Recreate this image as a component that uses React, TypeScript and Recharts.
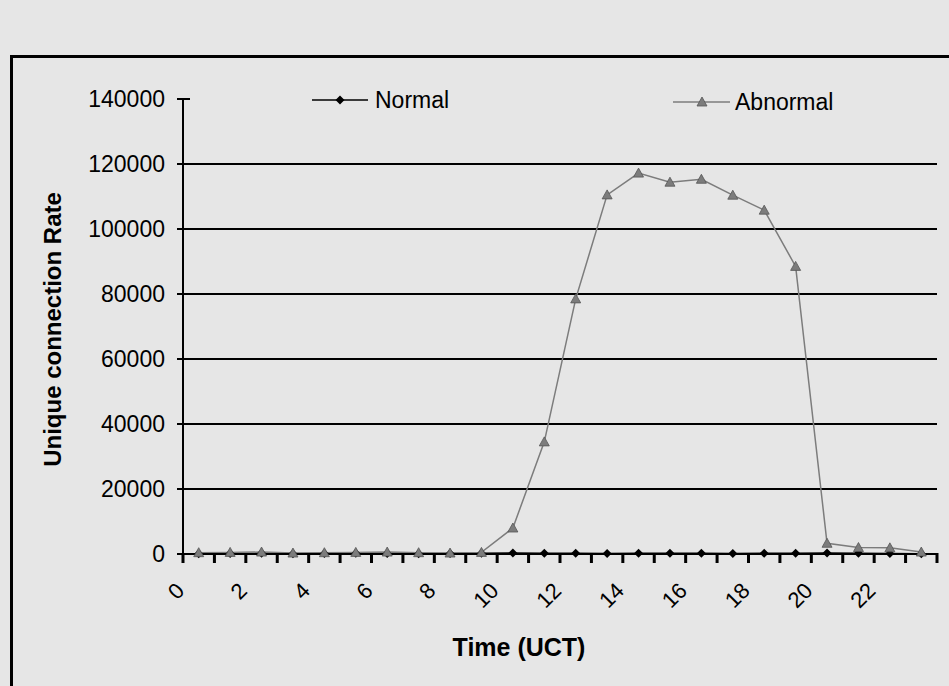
import { Label, Legend, Line, LineChart, ReferenceLine, XAxis, YAxis } from "recharts";

// Hours of the day (UCT), one category each.
const HOURS = [0, 1, 2, 3, 4, 5, 6, 7, 8, 9, 10, 11, 12, 13, 14, 15, 16, 17, 18, 19, 20, 21, 22, 23];
const NORMAL = [100, 150, 200, 100, 150, 200, 150, 100, 150, 200, 300, 250, 200, 150, 200, 250, 200, 150, 200, 250, 300, 200, 150, 100];
const ABNORMAL = [400, 500, 600, 300, 400, 500, 600, 400, 300, 500, 8000, 34500, 78500, 110500, 117200, 114400, 115300, 110400, 105800, 88500, 3300, 2000, 1900, 600];
const X_LABELS = [0, 2, 4, 6, 8, 10, 12, 14, 16, 18, 20, 22];
const Y_TICKS = [0, 20000, 40000, 60000, 80000, 100000, 120000, 140000];
const GRID_LINES = [20000, 40000, 60000, 80000, 100000, 120000];

const W = 949;
const H = 686;
const MARGIN = { top: 99, right: 12, bottom: 0, left: 20 };
const Y_AXIS_W = 163;
const PLOT_W = W - MARGIN.left - MARGIN.right - Y_AXIS_W;
const BAND = PLOT_W / HOURS.length;
const FONT = '"Liberation Sans", Arial, sans-serif';
const GREY = "#7c7c7c";

const rows = HOURS.map((h, i) => ({ hour: h, normal: NORMAL[i], abnormal: ABNORMAL[i] }));

function Diamond({ cx, cy }: any) {
  if (cx == null || cy == null) return <g />;
  return <polygon points={`${cx},${cy - 4.5} ${cx + 4.5},${cy} ${cx},${cy + 4.5} ${cx - 4.5},${cy}`} fill="#000" />;
}

function Triangle({ cx, cy }: any) {
  if (cx == null || cy == null) return <g />;
  return (
    <polygon
      points={`${cx},${cy - 5} ${cx + 5},${cy + 4} ${cx - 5},${cy + 4}`}
      fill={GREY}
      stroke="#555"
      strokeWidth={0.8}
    />
  );
}

// category ticks sit on the boundaries between hours, labels every 2nd hour
function XTick(props: any) {
  const { x, y, payload, index } = props;
  const edge = x - BAND / 2;
  const lx = x - 13;
  const ly = y + 38;
  return (
    <g>
      <rect x={edge - 1.5} y={y - 1} width={3} height={10} fill="#000" />
      {index === HOURS.length - 1 && <rect x={x + BAND / 2 - 1.5} y={y - 1} width={3} height={10} fill="#000" />}
      {X_LABELS.includes(payload.value) && (
        <text
          x={lx}
          y={ly}
          transform={`rotate(-45 ${lx} ${ly})`}
          textAnchor="end"
          fontSize={22}
          fontFamily={FONT}
          fill="#000"
        >
          {payload.value}
        </text>
      )}
    </g>
  );
}

function YTick({ x, y, payload }: any) {
  // x here is axis - tickSize - tickMargin
  const axisX = x + 18;
  return (
    <g>
      {payload.value === 140000 && (
        <line x1={axisX} x2={axisX + 7} y1={y} y2={y} stroke="#000" strokeWidth={2} />
      )}
      <text x={x} y={y} dy="0.36em" textAnchor="end" fontSize={23} fontFamily={FONT} fill="#000">
        {payload.value}
      </text>
    </g>
  );
}

function LegendBox() {
  return (
    <svg width={W} height={30} style={{ display: "block" }}>
      <line x1={312} x2={368} y1={14} y2={14} stroke="#000" strokeWidth={1.5} />
      <Diamond cx={340} cy={14} />
      <text x={375} y={22} fontSize={23} fontFamily={FONT} fill="#000">Normal</text>
      <line x1={673} x2={730} y1={16} y2={16} stroke={GREY} strokeWidth={1.5} />
      <Triangle cx={702} cy={16} />
      <text x={735} y={24} fontSize={23} fontFamily={FONT} fill="#000">Abnormal</text>
    </svg>
  );
}

export default function App() {
  return (
    <div style={{ position: "absolute", left: 0, top: 0, width: W, height: H, overflow: "hidden", background: "#e6e6e6" }}>
      <div
        style={{
          position: "absolute",
          left: 10,
          top: 55,
          width: 1000,
          height: 700,
          borderLeft: "3px solid #000",
          borderTop: "3px solid #000",
        }}
      />
      <div style={{ position: "absolute", left: 0, top: 0 }}>
        <LineChart width={W} height={H} data={rows} margin={MARGIN}>
          <XAxis
            dataKey="hour"
            interval={0}
            padding={{ left: BAND / 2, right: BAND / 2 }}
            height={132}
            tickLine={false}
            tickSize={0}
            tickMargin={0}
            axisLine={{ stroke: "#000", strokeWidth: 2 }}
            tick={(p: any) => <XTick {...p} />}
          >
            <Label
              content={({ viewBox }: any) => (
                <text
                  x={viewBox.x + 336}
                  y={viewBox.y + 93}
                  textAnchor="middle"
                  dominantBaseline="central"
                  fontSize={25}
                  fontWeight="bold"
                  fontFamily={FONT}
                  fill="#000"
                >
                  Time (UCT)
                </text>
              )}
            />
          </XAxis>
          <YAxis
            width={Y_AXIS_W}
            domain={[0, 140000]}
            ticks={Y_TICKS}
            interval={0}
            tickSize={6}
            tickMargin={12}
            tickLine={{ stroke: "#000", strokeWidth: 2 }}
            axisLine={{ stroke: "#000", strokeWidth: 2 }}
            tick={<YTick />}
          >
            <Label
              content={({ viewBox }: any) => {
                const cx = viewBox.x + 32;
                const cy = viewBox.y + viewBox.height / 2 + 3;
                return (
                  <text
                    x={cx}
                    y={cy}
                    transform={`rotate(-90 ${cx} ${cy})`}
                    textAnchor="middle"
                    dominantBaseline="central"
                    fontSize={24}
                    fontWeight="bold"
                    fontFamily={FONT}
                    fill="#000"
                  >
                    Unique connection Rate
                  </text>
                );
              }}
            />
          </YAxis>
          {GRID_LINES.map((v) => (
            <ReferenceLine key={v} y={v} stroke="#000" strokeWidth={2} />
          ))}
          <Legend
            layout="horizontal"
            verticalAlign="middle"
            align="center"
            wrapperStyle={{ top: 86, left: 0, width: W }}
            content={() => <LegendBox />}
          />
          <Line
            dataKey="normal"
            name="Normal"
            stroke="#000"
            strokeWidth={1.5}
            dot={(p: any) => <Diamond key={`n${p.index}`} {...p} />}
            isAnimationActive={false}
          />
          <Line
            dataKey="abnormal"
            name="Abnormal"
            stroke={GREY}
            strokeWidth={1.5}
            dot={(p: any) => <Triangle key={`a${p.index}`} {...p} />}
            isAnimationActive={false}
          />
        </LineChart>
      </div>
    </div>
  );
}
